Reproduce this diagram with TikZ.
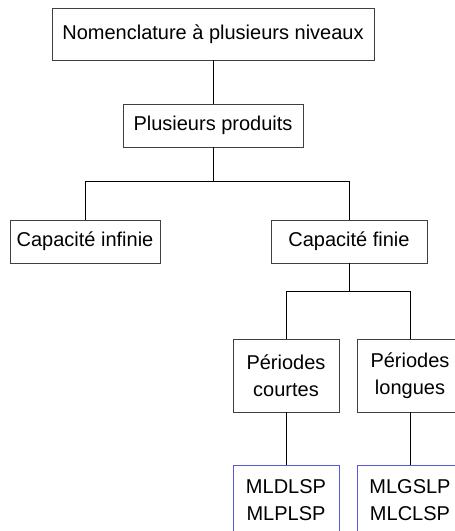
\documentclass[tikz,border=0pt]{standalone}
\usepackage{fontspec}
\setmainfont{Liberation Sans}
\usepackage{xcolor}
\usetikzlibrary{positioning,calc}
\definecolor{leafblue}{RGB}{90,90,210}
\tikzset{
  treebox/.style  = {rectangle, draw=black!75, line width=0.8pt, fill=white,
                     align=center, font=\fontsize{20}{27}\selectfont, inner sep=0pt},
  leafbox/.style  = {treebox, draw=leafblue},
  treeline/.style = {draw=black, line width=0.9pt},
}

\begin{document}
\begin{tikzpicture}[x=1pt,y=1pt]
  \path[use as bounding box, clip] (0,0) rectangle (455,-531);

  \node[treebox, minimum width=322pt, minimum height=52pt] (nom)  at (213,-34)    {Nomenclature à plusieurs niveaux};
  \node[treebox, minimum width=180pt, minimum height=43pt] (prod) at (213,-125.5) {Plusieurs produits};
  \node[treebox, minimum width=150pt, minimum height=43pt] (cinf) at (85,-241.5)  {Capacité infinie};
  \node[treebox, minimum width=156pt, minimum height=43pt] (cfin) at (349,-241.5) {Capacité finie};
  \node[treebox, minimum width=106pt, minimum height=73pt] (pcrt) at (286,-375.5) {Périodes\\courtes};
  \node[treebox, minimum width=106pt, minimum height=73pt] (plng) at (410,-375.5) {Périodes\\longues};
  \node[leafbox, minimum width=106pt, minimum height=70pt] (mcrt) at (286,-500)   {MLDLSP\\MLPLSP};
  \node[leafbox, minimum width=106pt, minimum height=70pt] (mlng) at (410,-500)   {MLGSLP\\MLCLSP};

  \coordinate (bar1) at (213,-181);
  \coordinate (bar2) at (349,-291);

  \draw[treeline] (nom) -- (prod);
  \draw[treeline] (prod.south) -- (bar1) -| (cinf.north);
  \draw[treeline] (bar1) -| (cfin.north);
  \draw[treeline] (cfin.south) -- (bar2) -| (pcrt.north);
  \draw[treeline] (bar2) -| (plng.north);
  \draw[treeline] (pcrt) -- (mcrt);
  \draw[treeline] (plng) -- (mlng);
\end{tikzpicture}
\end{document}
